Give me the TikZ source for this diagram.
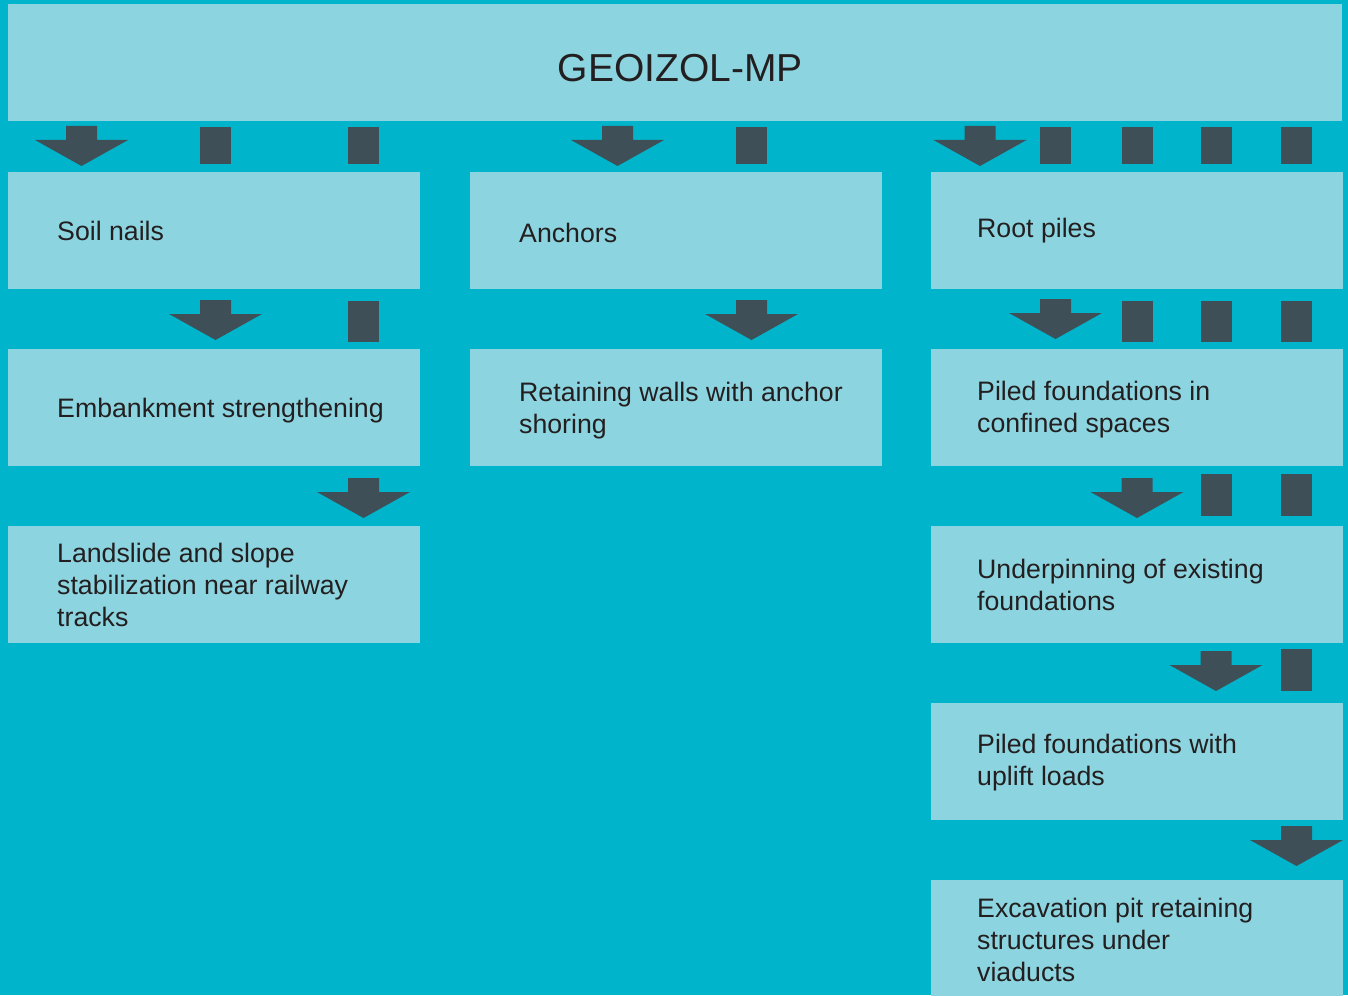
\documentclass[tikz,border=0pt]{standalone}
\usepackage{fontspec}
\setmainfont{Liberation Sans}
\definecolor{bgteal}{RGB}{0,181,203}
\definecolor{boxcyan}{RGB}{140,213,224}
\definecolor{darkslate}{RGB}{63,79,87}
\definecolor{txt}{RGB}{35,31,32}
\newcommand\darr[2]{\fill[darkslate] (#1-15.5,#2) -- (#1+15.5,#2) -- (#1+15.5,#2+14) -- (#1+46.5,#2+14) -- (#1,#2+40) -- (#1-46.5,#2+14) -- (#1-15.5,#2+14) -- cycle;}
\newcommand\sqbar[3]{\fill[darkslate] (#1-15.5,#2) rectangle (#1+15.5,#3);}
\tikzset{
  panel/.style={fill=boxcyan, draw=none, minimum width=412pt, minimum height=117pt, inner sep=0pt, anchor=north west},
  lbl/.style={text=txt, align=left, anchor=west, inner sep=0pt, font=\fontsize{26.7}{32}\selectfont},
}
\begin{document}
\begin{tikzpicture}[x=1pt,y=-1pt]
\fill[bgteal] (0,0) rectangle (1348,995);
\useasboundingbox (0,0) rectangle (1348,995);
% top box
\node[panel, minimum width=1334pt] (top) at (8,4) {};
\node[text=txt, font=\fontsize{39}{46}\selectfont, inner sep=0pt] (toplbl) at ([xshift=5pt,yshift=-5pt]top.center) {GEOIZOL-MP};
% column 1
\node[panel] (soil) at (8,172) {};
\node[panel] (emb) at (8,349) {};
\node[panel] (land) at (8,526) {};
% column 2
\node[panel] (anch) at (470,172) {};
\node[panel] (ret) at (470,349) {};
% column 3
\node[panel] (root) at (931,172) {};
\node[panel] (piled) at (931,349) {};
\node[panel] (under) at (931,526) {};
\node[panel] (uplift) at (931,703) {};
\node[panel] (exc) at (931,880) {};
% labels
\node[lbl] (soilt) at ([xshift=49pt]soil.west) {Soil nails};
\node[lbl] (embt) at ([xshift=49pt,yshift=-3pt]emb.west) {Embankment strengthening};
\node[lbl] (landt) at ([xshift=49pt]land.west) {Landslide and slope\\stabilization near railway\\tracks};
\node[lbl] (ancht) at ([xshift=49pt,yshift=-2pt]anch.west) {Anchors};
\node[lbl] (rett) at ([xshift=49pt,yshift=-2.5pt]ret.west) {Retaining walls with anchor\\shoring};
\node[lbl] (roott) at ([xshift=46pt]root.west) {Root piles};
\node[lbl] (pilt) at ([xshift=46pt,yshift=-2pt]piled.west) {Piled foundations in\\confined spaces};
\node[lbl] (undt) at ([xshift=46pt]under.west) {Underpinning of existing\\foundations};
\node[lbl] (uplt) at ([xshift=46pt,yshift=-1pt]uplift.west) {Piled foundations with\\uplift loads};
\node[lbl] (exct) at ([xshift=46pt,yshift=-1pt]exc.west) {Excavation pit retaining\\structures under\\viaducts};
% gap 1
\darr{81.5}{126}
\sqbar{215.5}{127}{164}
\sqbar{363.5}{127}{164}
\darr{617.5}{126}
\sqbar{751.5}{127}{164}
\darr{980}{126}
\sqbar{1055.5}{127}{164}
\sqbar{1137}{127}{164}
\sqbar{1216}{127}{164}
\sqbar{1296.5}{127}{164}
% gap 2
\darr{215.5}{300}
\sqbar{363.5}{301}{342}
\darr{751.5}{300}
\darr{1055.5}{299}
\sqbar{1137}{301}{342}
\sqbar{1216}{301}{342}
\sqbar{1296.5}{301}{342}
% gap 3
\darr{363.5}{478}
\darr{1137}{478}
\sqbar{1216}{474}{516}
\sqbar{1296.5}{474}{516}
% gap 4
\darr{1216}{651}
\sqbar{1296.5}{649}{691}
% gap 5
\darr{1296.5}{826}
\end{tikzpicture}
\end{document}
